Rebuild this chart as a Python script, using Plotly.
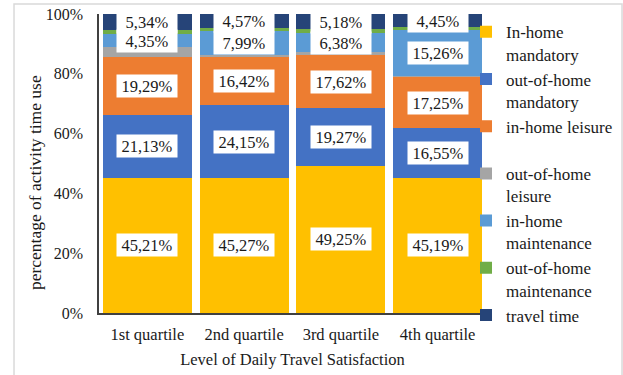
import plotly.graph_objects as go

categories = ["1st quartile", "2nd quartile", "3rd quartile", "4th quartile"]

series_names = [
    "In-home<br>mandatory",
    "out-of-home<br>mandatory",
    "in-home leisure<br>&nbsp;",
    "out-of-home<br>leisure",
    "in-home<br>maintenance",
    "out-of-home<br>maintenance",
    "travel time",
]
in_home_mandatory = [45.21, 45.27, 49.25, 45.19]
out_home_mandatory = [21.13, 24.15, 19.27, 16.55]
in_home_leisure = [19.29, 16.42, 17.62, 17.25]
out_home_leisure = [3.28, 0.50, 1.00, 0.30]
in_home_maintenance = [4.35, 7.99, 6.38, 15.26]
out_home_maintenance = [1.40, 1.10, 1.30, 1.00]
travel_time = [5.34, 4.57, 5.18, 4.45]

series_values = [in_home_mandatory, out_home_mandatory, in_home_leisure,
                 out_home_leisure, in_home_maintenance, out_home_maintenance,
                 travel_time]
labeled = [True, True, True, False, True, False, True]
colors = ["#FFC000", "#4472C4", "#ED7D31", "#A5A5A5", "#5B9BD5", "#70AD47", "#264478"]

y_ticks = [0, 20, 40, 60, 80, 100]
y_tick_labels = ["0%", "20%", "40%", "60%", "80%", "100%"]

FONT = "Liberation Serif"
TXT = "#1a1a1a"

fig = go.Figure()
for i, (name, vals, col) in enumerate(zip(series_names, series_values, colors)):
    fig.add_trace(go.Bar(x=categories, y=vals, name=name, marker_color=col,
                         marker_line_width=0, legendgroup=f"g{i}"))

annotations = []
base = [0.0] * len(categories)
for vals, lab in zip(series_values, labeled):
    for j, v in enumerate(vals):
        if lab:
            annotations.append(dict(
                x=categories[j], y=base[j] + v / 2, xref="x", yref="y",
                text=f"{v:.2f}%".replace(".", ","), showarrow=False,
                bgcolor="white", borderpad=1, width=58, height=20,
                font=dict(family=FONT, size=16.5, color=TXT)))
        base[j] += v

# y-axis title (rotated text, slightly below the plot centre as in the original)
annotations.append(dict(text="percentage of activity time use", textangle=-90,
                        xref="paper", yref="paper", x=-0.165, y=0.435,
                        xanchor="center", yanchor="middle",
                        showarrow=False, font=dict(family=FONT, size=17.5, color=TXT)))

fig.update_layout(
    width=623, height=375,
    barmode="stack", bargap=0.08,
    paper_bgcolor="white", plot_bgcolor="white",
    margin=dict(l=99, r=137, t=14, b=62, autoexpand=False),
    font=dict(family=FONT, size=16.5, color=TXT),
    annotations=annotations,
    showlegend=True,
    legend=dict(traceorder="normal", xref="container", yref="container",
                x=0.748, xanchor="left", y=0.962, yanchor="top",
                valign="top", tracegroupgap=4, bgcolor="rgba(0,0,0,0)",
                maxheight=370,
                font=dict(family=FONT, size=17, color=TXT)),
    xaxis=dict(showline=True, linecolor="#404040", linewidth=1.5, ticks="",
               automargin=False, ticklabelstandoff=5,
               title=dict(text="Level of Daily Travel Satisfaction", standoff=11,
                          font=dict(size=16.5)),
               tickfont=dict(size=16.5)),
    yaxis=dict(range=[0, 100], tickvals=y_ticks, ticktext=y_tick_labels,
               showgrid=False, automargin=False,
               showline=True, linecolor="#404040", linewidth=1.5, ticks="",
               ticklabelstandoff=11, zeroline=False,
               tickfont=dict(size=16)),
    shapes=[dict(type="rect", xref="paper", yref="paper",
                 x0=-0.2196, x1=1.3515, y0=-0.25, y1=1.0334,
                 line=dict(color="#d9d9d9", width=1.5), layer="below")],
)

fig.write_html("out.html")
